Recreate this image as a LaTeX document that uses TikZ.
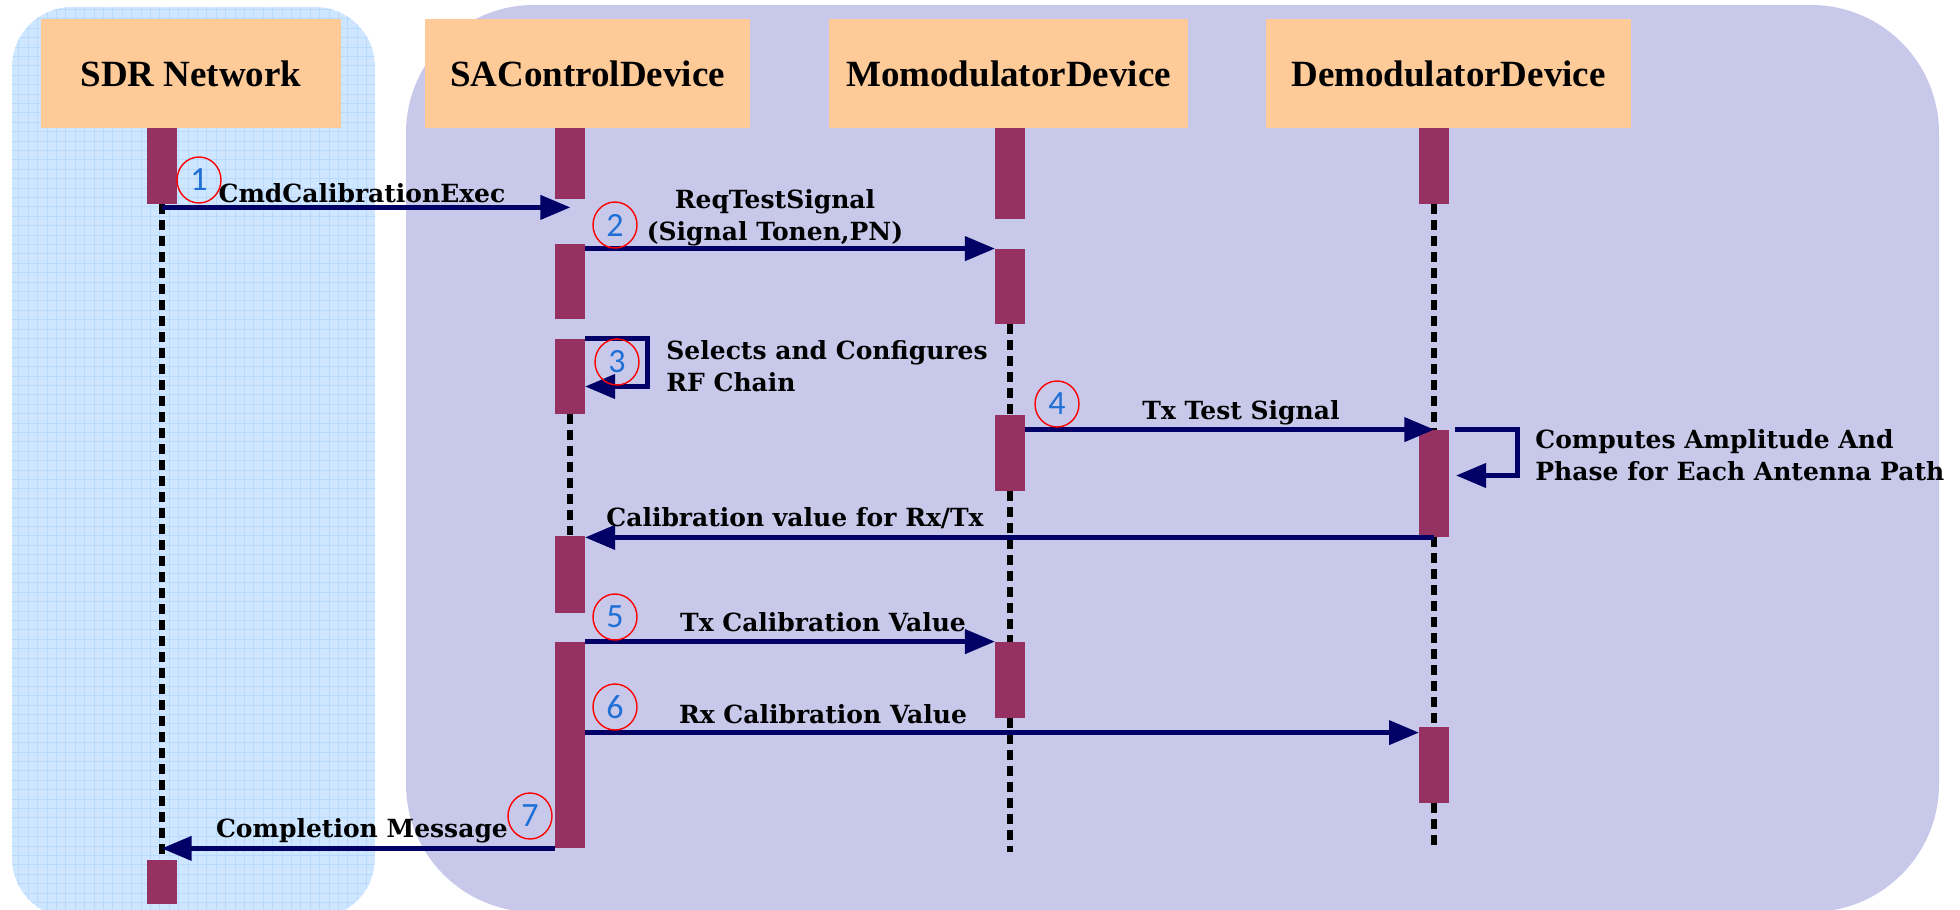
\documentclass[tikz,border=0pt]{standalone}
\usepackage{fontspec}
\setmainfont{Liberation Serif}
\newfontfamily\lblfont{DejaVu Serif}
\newfontfamily\numfont{Carlito}
\usetikzlibrary{arrows,shapes,positioning}
\definecolor{hdrfill}{RGB}{253,202,152}
\definecolor{barfill}{RGB}{150,50,98}
\definecolor{msgblue}{RGB}{0,0,102}
\definecolor{leftbg}{RGB}{206,230,255}
\definecolor{leftgrid}{RGB}{184,218,252}
\definecolor{rightbg}{RGB}{200,201,234}
\definecolor{numblue}{RGB}{30,112,214}

\begin{document}
\begin{tikzpicture}[x=0.5pt,y=-0.5pt,>=triangle 45,
  hdr/.style={fill=hdrfill,minimum height=54.5pt,inner sep=0pt,font=\bfseries\fontsize{18.5}{20}\selectfont},
  act/.style={fill=barfill,minimum width=15pt,inner sep=0pt},
  life/.style={line width=3pt,dash pattern=on 5pt off 3pt},
  msg/.style={->,line width=2.5pt,draw=msgblue},
  num/.style={ellipse,draw=red,line width=0.7pt,minimum width=22pt,minimum height=23pt,inner sep=0pt,text=numblue,font=\numfont\fontsize{17}{17}\selectfont},
  lbl/.style={anchor=base,inner sep=0pt,font=\lblfont\bfseries\fontsize{12.5}{16}\selectfont}]
\useasboundingbox (0,0) rectangle (1960,910);
\clip (0,0) rectangle (1960,910);
% swimlanes
\begin{scope}
  \clip[rounded corners=30pt] (12,7) rectangle (375,918);
  \fill[leftbg] (12,7) rectangle (375,918);
  \draw[leftgrid,line width=0.4pt,step=4.7pt] (0,0) grid (380,920);
\end{scope}
\fill[rightbg,rounded corners=64pt] (406,5) rectangle (1939,912);

% objects
\node[hdr,minimum width=150pt] (sdr) at (191,73.5) {SDR Network};
\node[hdr,minimum width=162.5pt] (sac) at (587.5,73.5) {SAControlDevice};
\node[hdr,minimum width=179.5pt] (mod) at (1008.5,73.5) {MomodulatorDevice};
\node[hdr,minimum width=182.5pt] (dem) at (1448.5,73.5) {DemodulatorDevice};

% activations
\node[act,minimum height=38pt] (sdr1) at (162,166) {};
\node[act,minimum height=22pt] (sdr2) at (162,882) {};

\node[act,minimum height=35.5pt] (sac1) at (570,163.5) {};
\node[act,minimum height=37.5pt] (sac2) at (570,281.5) {};
\node[act,minimum height=37.5pt] (sac3) at (570,376.5) {};
\node[act,minimum height=38.5pt] (sac4) at (570,574) {};
\node[act,minimum height=103pt] (sac5) at (570,745) {};

\node[act,minimum height=45.5pt] (mod1) at (1010,173.5) {};
\node[act,minimum height=37.5pt] (mod2) at (1010,286.5) {};
\node[act,minimum height=38pt] (mod3) at (1010,453) {};
\node[act,minimum height=38pt] (mod4) at (1010,680) {};

\node[act,minimum height=38pt] (dem1) at (1434,166) {};
\node[act,minimum height=53.5pt] (dem2) at (1434,483.5) {};
\node[act,minimum height=38pt] (dem3) at (1434,765) {};

% lifelines
\coordinate (modend) at (1010,852);
\coordinate (demend) at (1434,845);
\draw[life] (sdr1.south) -- (sdr2.north);
\draw[life] (sac3.south) -- (sac4.north);
\draw[life] (mod2.south) -- (mod3.north);
\draw[life] (mod3.south) -- (mod4.north);
\draw[life] (mod4.south) -- (modend);
\draw[life] (dem1.south) -- (dem2.north);
\draw[life] (dem2.south) -- (dem3.north);
\draw[life] (dem3.south) -- (demend);

% messages
\draw[msg] ([yshift=-1.5pt]sdr1.south) -- ([yshift=-1.5pt]sdr1.south -| sac1);
\draw[msg] (sac2.east |- mod2.north west) -- (mod2.north west);
\draw[msg] (sac3.north east) -- ++(62,0) |- ([yshift=-5pt]sac3.east);
\draw[msg] (mod3.east |- dem2.north) -- (dem2.north);
\draw[msg] ([xshift=3pt]dem2.north east) -- ++(62,0) |- ([xshift=3.5pt,yshift=4pt]dem2.east);
\draw[msg] (dem2.south) -- (dem2.south -| sac4.east);
\draw[msg] (sac5.north east) -- (mod4.north west);
\draw[msg] ([yshift=-3pt]sac5.east |- dem3.north) -- ([yshift=-3pt]dem3.north west);
\draw[msg] (sac5.south west) -- (sac5.south west -| sdr1);

% message texts
\node[lbl] (l1) at (362,202) {CmdCalibrationExec};
\node[lbl,align=center] (l2) at (775,240) {ReqTestSignal\\(Signal Tonen,PN)};
\node[lbl,anchor=base west,align=left] (l3) at (666,391) {Selects and Configures\\RF Chain};
\node[lbl] (l4) at (1241,419) {Tx Test Signal};
\node[lbl,anchor=base west,align=left] (l5) at (1535,480) {Computes Amplitude And\\Phase for Each Antenna Path};
\node[lbl] (l6) at (795,526) {Calibration value for Rx/Tx};
\node[lbl] (l7) at (823,631) {Tx Calibration Value};
\node[lbl] (l8) at (823,723) {Rx Calibration Value};
\node[lbl] (l9) at (362,837) {Completion Message};

% step numbers
\node[num] (n1) at (199,180) {1};
\node[num] (n2) at (615,225) {2};
\node[num] (n3) at (617,362) {3};
\node[num] (n4) at (1057,404) {4};
\node[num] (n5) at (615,617) {5};
\node[num] (n6) at (615,707) {6};
\node[num] (n7) at (530,816) {7};
\end{tikzpicture}
\end{document}
